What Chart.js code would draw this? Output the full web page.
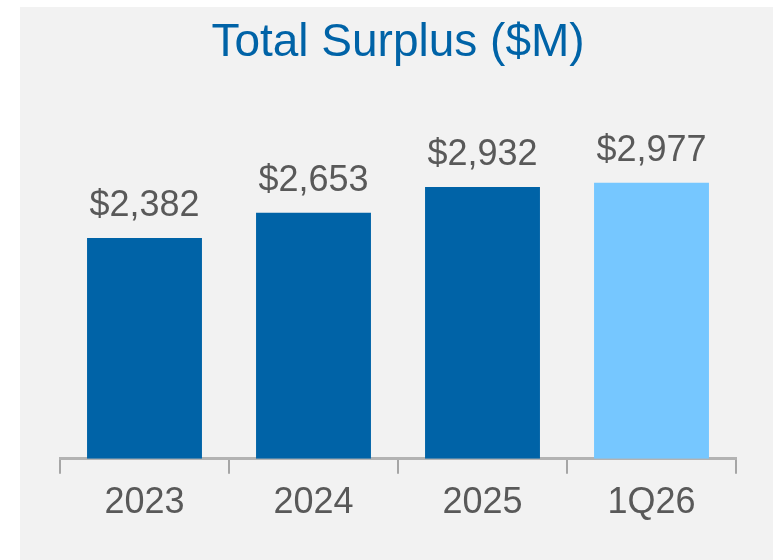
<!DOCTYPE html>
<html>
<head>
<meta charset="utf-8">
<script src="https://cdn.jsdelivr.net/npm/chart.js@4.4.1/dist/chart.umd.min.js"></script>
<style>
  body { margin: 0; background: #ffffff; }
  #panel { position: absolute; left: 20px; top: 7px; width: 753px; height: 553px; background: #f2f2f2; }
</style>
</head>
<body>
<div id="panel"><canvas id="surplusChart" width="753" height="553"></canvas></div>
<script>
const categories = ['2023', '2024', '2025', '1Q26'];
const surplus = [2382, 2653, 2932, 2977];
const barColors = ['#0063a7', '#0063a7', '#0063a7', '#76c7ff'];

// draws the "$2,382" labels above each bar
const valueLabels = {
    id: 'valueLabels',
    afterDatasetsDraw(chart) {
        const ctx = chart.ctx;
        const meta = chart.getDatasetMeta(0);
        ctx.save();
        ctx.font = '36px "Liberation Sans", Arial, sans-serif';
        ctx.fillStyle = '#595959';
        ctx.textAlign = 'center';
        ctx.textBaseline = 'alphabetic';
        meta.data.forEach((bar, i) => {
            ctx.fillText('$' + surplus[i].toLocaleString('en-US'), bar.x, bar.y - 22);
        });
        ctx.restore();
    }
};

const ctx = document.getElementById('surplusChart').getContext('2d');
const surplusChart = new Chart(ctx, {
    type: 'bar',
    data: {
        labels: categories,
        datasets: [{
            data: surplus,
            backgroundColor: barColors,
            borderWidth: 0,
            categoryPercentage: 1.0,
            barPercentage: 0.68
        }]
    },
    options: {
        responsive: false,
        animation: false,
        layout: { padding: { left: 40, right: 37, top: 0, bottom: 27 } },
        plugins: {
            legend: { display: false },
            tooltip: { enabled: false },
            title: {
                display: true,
                text: 'Total Surplus ($M)',
                color: '#0063a7',
                font: { family: '"Liberation Sans", Arial, sans-serif', size: 46, weight: 'normal' },
                padding: { top: 9, bottom: 63 }
            }
        },
        scales: {
            x: {
                grid: { display: true, drawOnChartArea: false, tickLength: 15, color: '#a6a6a6', lineWidth: 2, offset: true },
                border: { display: true, color: '#b3b3b3', width: 3 },
                ticks: {
                    color: '#595959',
                    padding: 8,
                    font: { family: '"Liberation Sans", Arial, sans-serif', size: 36 }
                }
            },
            y: {
                display: false,
                min: 0,
                max: 3500
            }
        }
    },
    plugins: [valueLabels]
});
</script>
</body>
</html>
